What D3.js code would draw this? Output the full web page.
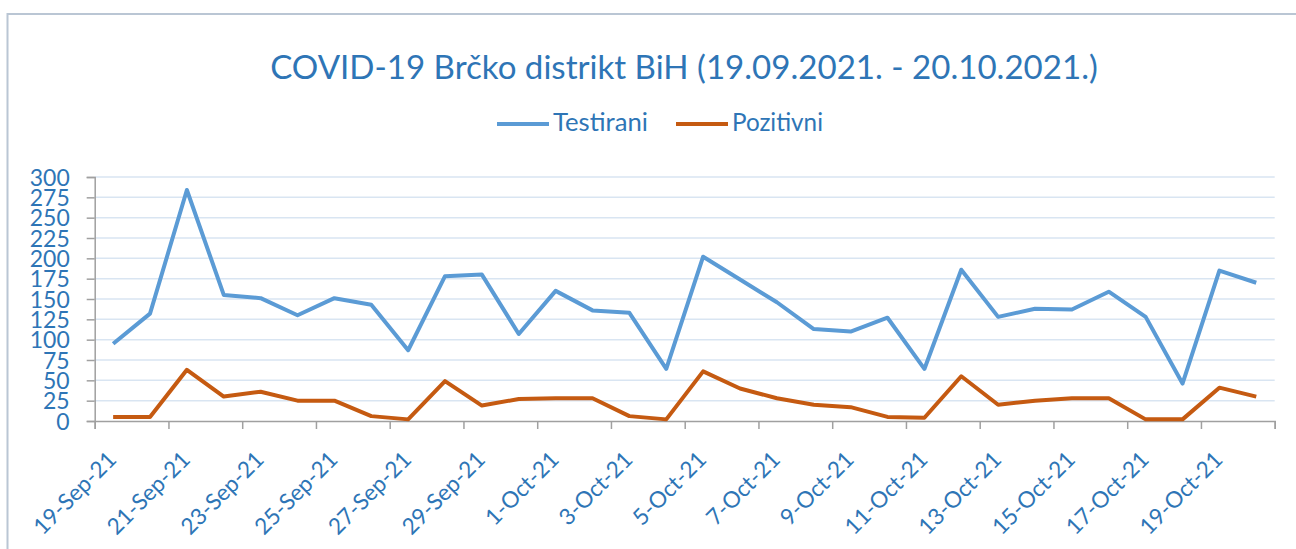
<!DOCTYPE html>
<html>
<head>
<meta charset="utf-8">
<script src="https://cdn.jsdelivr.net/npm/d3@7"></script>
<style>
  body { margin: 0; background: #fff; }
  text { font-family: Lato, "Open Sans", sans-serif; }
</style>
</head>
<body>
<div id="chart"></div>
<script>
// Data
const dates = ["19-Sep-21","20-Sep-21","21-Sep-21","22-Sep-21","23-Sep-21","24-Sep-21","25-Sep-21","26-Sep-21",
  "27-Sep-21","28-Sep-21","29-Sep-21","30-Sep-21","1-Oct-21","2-Oct-21","3-Oct-21","4-Oct-21",
  "5-Oct-21","6-Oct-21","7-Oct-21","8-Oct-21","9-Oct-21","10-Oct-21","11-Oct-21","12-Oct-21",
  "13-Oct-21","14-Oct-21","15-Oct-21","16-Oct-21","17-Oct-21","18-Oct-21","19-Oct-21","20-Oct-21"];
const testirani = [95,132,284,155,151,130,151,143,87,178,180,107,160,136,133,64,
  202,174,146,113,110,127,64,186,128,138,137,159,128,46,185,170];
const pozitivni = [5,5,63,30,36,25,25,6,2,49,19,27,28,28,6,2,
  61,40,28,20,17,5,4,55,20,25,28,28,2,2,41,30];
const yTicks = [0,25,50,75,100,125,150,175,200,225,250,275,300];
const seriesNames = ["Testirani","Pozitivni"];
const seriesColors = ["#5B9BD5","#C55A11"];

const W = 1296, H = 549;
const plotLeft = 94.7, plotRight = 1274.7, plotTop = 177, plotBottom = 421;
const labelColor = "#2E75B6";

const svg = d3.select("#chart").append("svg")
    .attr("width", W)
    .attr("height", H);

// outer border of the chart area
svg.append("rect")
    .attr("x", 7.5).attr("y", 14)
    .attr("width", W + 20).attr("height", H + 20)
    .attr("fill", "none")
    .attr("stroke", "#BAC6D4")
    .attr("stroke-width", 2);

// make a text fit a given width
function fit(sel, target) {
    const w = sel.node().getComputedTextLength();
    const fs = parseFloat(sel.attr("font-size"));
    sel.attr("font-size", fs * target / w);
    return fs * target / w;
}

// Title
const title = svg.append("text")
    .attr("x", 684).attr("y", 79)
    .attr("text-anchor", "middle")
    .attr("font-size", 30)
    .attr("fill", labelColor)
    .text("COVID-19 Brčko distrikt BiH (19.09.2021. - 20.10.2021.)");
fit(title, 828);

// Scales
const x = d3.scaleLinear().domain([0, dates.length]).range([plotLeft, plotRight]);
const y = d3.scaleLinear().domain([0, 300]).range([plotBottom, plotTop]);

// Gridlines
svg.append("g")
    .selectAll("line")
    .data(yTicks.filter(d => d > 0))
    .join("line")
    .attr("x1", plotLeft).attr("x2", plotRight)
    .attr("y1", d => y(d)).attr("y2", d => y(d))
    .attr("stroke", "#D9E5F2")
    .attr("stroke-width", 1.5);

// Y axis
const yAxis = svg.append("g")
    .attr("transform", `translate(${plotLeft},0)`)
    .call(d3.axisLeft(y).tickValues(yTicks).tickSize(8).tickPadding(17));
yAxis.select(".domain").attr("stroke", "#A0A0A0").attr("stroke-width", 1.5);
yAxis.selectAll(".tick line").attr("stroke", "#A0A0A0").attr("stroke-width", 1.5);
yAxis.selectAll(".tick text")
    .attr("fill", labelColor)
    .attr("font-size", 24)
    .attr("font-family", "Lato, sans-serif");
const yfs = fit(yAxis.selectAll(".tick text").filter(d => d === 300), 40);
yAxis.selectAll(".tick text").attr("font-size", yfs).attr("dy", "0.36em");

// X axis
const xTickIdx = d3.range(0, dates.length + 1, 2);
const xAxis = svg.append("g")
    .attr("transform", `translate(0,${plotBottom})`)
    .call(d3.axisBottom(x).tickValues(xTickIdx).tickSize(8).tickFormat(""));
xAxis.select(".domain").attr("stroke", "#A0A0A0").attr("stroke-width", 1.5);
xAxis.selectAll(".tick line").attr("stroke", "#A0A0A0").attr("stroke-width", 1.5);

const xLabels = svg.append("g")
    .selectAll("text")
    .data(xTickIdx.filter(i => i < dates.length))
    .join("text")
    .attr("transform", i => `translate(${x(i) + 23},${plotBottom + 40}) rotate(-45)`)
    .attr("text-anchor", "end")
    .attr("font-size", 20)
    .attr("fill", labelColor)
    .text(i => dates[i]);
const xfs = fit(xLabels.filter(i => i === 0), 106);
xLabels.attr("font-size", xfs);

// Lines
const line = d3.line()
    .x((d, i) => x(i + 0.5))
    .y(d => y(d));

[testirani, pozitivni].forEach((vals, k) => {
    svg.append("path")
        .datum(vals)
        .attr("fill", "none")
        .attr("stroke", seriesColors[k])
        .attr("stroke-width", 4)
        .attr("stroke-linejoin", "round")
        .attr("d", line);
});

// Legend
const legendX = [497, 676];
seriesNames.forEach((name, k) => {
    svg.append("line")
        .attr("x1", legendX[k]).attr("x2", legendX[k] + 52)
        .attr("y1", 124).attr("y2", 124)
        .attr("stroke", seriesColors[k])
        .attr("stroke-width", 4);
    const t = svg.append("text")
        .attr("x", legendX[k] + 56)
        .attr("y", 131)
        .attr("font-size", 20)
        .attr("fill", labelColor)
        .text(name);
    fit(t, k === 0 ? 95 : 91);
});
</script>
</body>
</html>
